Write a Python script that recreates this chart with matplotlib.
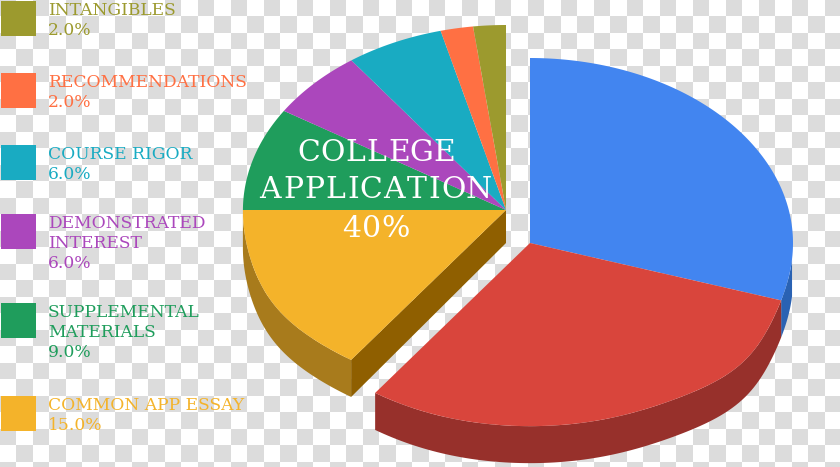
import numpy as np
import matplotlib
matplotlib.use('Agg')
import matplotlib.pyplot as plt
from matplotlib.colors import ListedColormap
from matplotlib.font_manager import FontProperties
from matplotlib.patches import Rectangle
from matplotlib.textpath import TextPath

# slices, clockwise from 12 o'clock
slice_names = ['Other A', 'Other B', 'Common App Essay', 'Supplemental Materials',
               'Demonstrated Interest', 'Course Rigor', 'Recommendations', 'Intangibles']
slice_values = [30, 30, 15, 9, 6, 6, 2, 2]
slice_colors = ['#4285f0', '#d9453c', '#f4b32a', '#1f9d5c', '#ab47bc', '#19abc2', '#ff7043', '#9c9a2e']

# legend, top to bottom
legend_lines = [['INTANGIBLES'], ['RECOMMENDATIONS'], ['COURSE RIGOR'],
                ['DEMONSTRATED', 'INTEREST'], ['SUPPLEMENTAL', 'MATERIALS'], ['COMMON APP ESSAY']]
legend_values = [2.0, 2.0, 6.0, 6.0, 9.0, 15.0]
legend_colors = ['#9c9a2e', '#ff7043', '#19abc2', '#ab47bc', '#1f9d5c', '#f4b32a']
legend_tops = [1, 73, 145, 214, 303, 396]

center_lines = ['COLLEGE', 'APPLICATION', '40%']

SERIF = 'DejaVu Serif'
RX, RY = 263, 185
DEPTH = 37
CENTER_RIGHT = (530, 243)   # the two big slices
CENTER_LEFT = (506, 210)    # the 40% group


def bulge(t):
    # the near edge of the pie bulges a little because of the perspective
    right = ((t + 180) % 360) - 180
    left = t % 360
    return (1 + 0.035 * np.exp(-((right + 40) / 15) ** 2)
            - 0.01 * np.exp(-((right + 90) / 25) ** 2)
            + 0.02 * np.exp(-((left - 212) / 16) ** 2))


def arc(center, t1, t2, dy=0):
    t = np.linspace(t1, t2, 100)
    r = bulge(t)
    rad = np.radians(t)
    return center[0] + RX * r * np.cos(rad), center[1] - RY * r * np.sin(rad) + dy


def spaced_text(ax, cx, y, s, size, track, **kw):
    # centred line with extra space between letters, size in points
    fp = FontProperties(family=SERIF)
    px = size * 100 / 72
    w = [TextPath((0, 0), ch if ch != ' ' else 'n', size=px, prop=fp).get_extents().x1 for ch in s]
    x = cx - (sum(w) + track * (len(s) - 1)) / 2
    for ch, cw in zip(s, w):
        ax.text(x, y, ch, family=SERIF, fontsize=size, ha='left', va='baseline', **kw)
        x += cw + track


fig = plt.figure(figsize=(8.4, 4.67), dpi=100)
ax = fig.add_axes([0, 0, 1, 1])
ax.axis('off')

# transparency checkerboard behind the picture
cell = 16.5
rows, cols = int(467 / cell) + 1, int(840 / cell) + 1
checks = np.indices((rows, cols)).sum(axis=0) % 2
ax.imshow(checks, cmap=ListedColormap(['#dcdcdc', '#ffffff']),
          extent=(0, cols * cell, rows * cell, 0), interpolation='nearest', aspect='auto', zorder=0)
ax.set_xlim(0, 840)
ax.set_ylim(467, 0)

# angles from the values
angles = 90 - np.cumsum([0] + slice_values) * 3.6
starts, ends = angles[1:], angles[:-1]
centers = [CENTER_RIGHT, CENTER_RIGHT] + [CENTER_LEFT] * 6

# side walls
wall_parts = [(-18, -5, '#2a62b3', CENTER_RIGHT), (-126, -18, '#97302b', CENTER_RIGHT), (180, 234, '#a87b1c', CENTER_LEFT)]
for t1, t2, col, c in wall_parts:
    x1, y1 = arc(c, t1, t2)
    x2, y2 = arc(c, t1, t2, DEPTH)
    ax.fill(np.r_[x1, x2[::-1]], np.r_[y1, y2[::-1]], color=col, lw=0, zorder=2)

# cut face of the yellow slice
x_end, y_end = arc(CENTER_LEFT, 234, 234)
ax.fill([CENTER_LEFT[0], x_end[0], x_end[0], CENTER_LEFT[0]],
        [CENTER_LEFT[1], y_end[0], y_end[0] + DEPTH, CENTER_LEFT[1] + 33],
        color='#8f5f00', lw=0, zorder=2)

# top faces
for s, e, col, c in zip(starts, ends, slice_colors, centers):
    x, y = arc(c, s, e)
    ax.fill(np.r_[c[0], x], np.r_[c[1], y], color=col, lw=0, zorder=3)

# legend
for lines, val, col, top in zip(legend_lines, legend_values, legend_colors, legend_tops):
    ax.add_patch(Rectangle((1, top), 35, 35, facecolor=col, edgecolor='none', zorder=3))
    for i, line in enumerate(lines + ['%.1f%%' % val]):
        ax.text(48, top + 14 + i * 20, line, color=col, family=SERIF, fontsize=12.3,
                ha='left', va='baseline', zorder=4)

# centre title
for line, y in zip(center_lines, [161, 198, 237]):
    spaced_text(ax, 375, y, line, 21.5, 2.2, color='white', zorder=5)

fig.savefig('out.png', dpi=100)
